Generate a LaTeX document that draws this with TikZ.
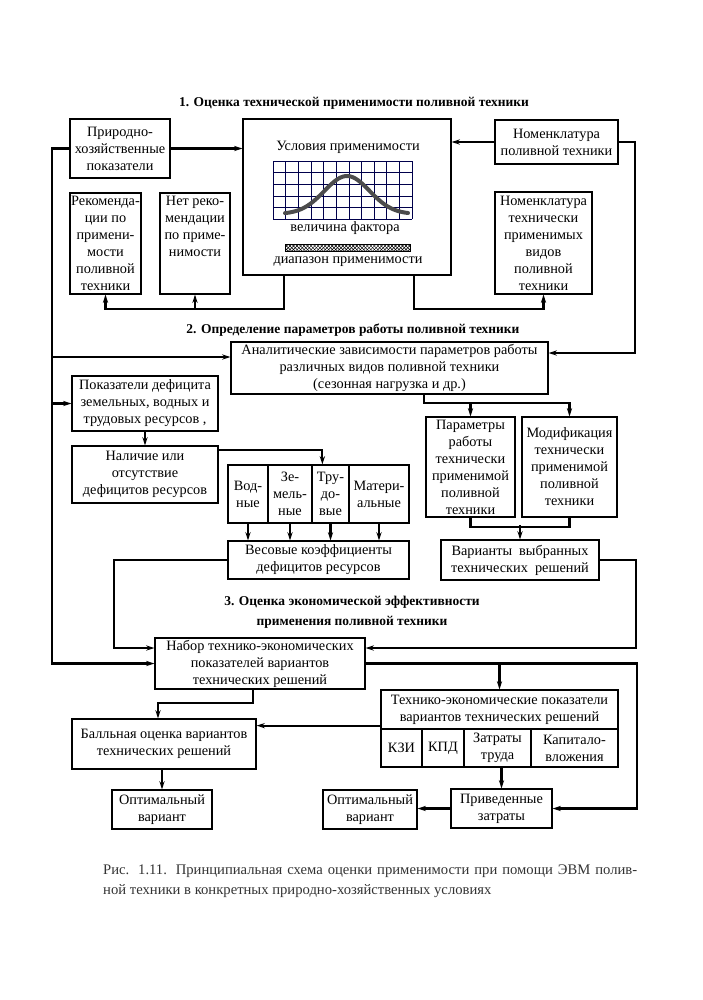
\documentclass[tikz,border=0pt]{standalone}
\usepackage{fontspec}
\setmainfont{Liberation Serif}
\usetikzlibrary{calc,patterns,arrows.meta}

\begin{document}
\begin{tikzpicture}[x=0.03cm,y=-0.03cm]
    % `block' is used for every framed box, `heading' for the part titles.
    % `link' is used for the connectors with an arrow, `plain' without one.
    \tikzstyle{block} = [draw,line width=1.1pt,align=center,inner sep=1pt,font=\fontsize{12.2}{14.5}\selectfont]
    \tikzstyle{heading} = [align=center,inner sep=0pt,font=\bfseries\fontsize{11.5}{17}\selectfont]
    \tikzstyle{inside} = [inner sep=0pt,font=\fontsize{12.2}{14.5}\selectfont]
    \tikzstyle{link} = [line width=1.9pt,-{Stealth[length=7pt,width=4.5pt]}]
    \tikzstyle{plain} = [line width=1.9pt]
    \tikzstyle{gridline} = [line width=0.5pt,draw=black!70!blue]
    \useasboundingbox (0,0) rectangle (703,1000);
    %
    % Part 1.
    \node[heading] (title1) at (354,103) {1. Оценка технической применимости поливной техники};
    \node[block,minimum width=3.0cm,minimum height=1.77cm] (prirod) at (120,148.5) {Природно-\\хозяйственные\\показатели};
    \node[block,minimum width=6.24cm,minimum height=4.68cm] (usl) at (347,197) {};
    \node[block,minimum width=3.69cm,minimum height=1.32cm] (nomen) at (556.5,142) {Номенклатура\\поливной техники};
    \node[block,minimum width=2.13cm,minimum height=3.03cm] (rekom) at (105.5,243.5) {Рекоменда-\\ции по\\примени-\\мости\\поливной\\техники};
    \node[block,minimum width=2.10cm,minimum height=3.03cm] (netrek) at (195,243.5) {Нет реко-\\мендации\\по приме-\\нимости\\~\\~};
    \node[block,minimum width=2.91cm,minimum height=3.06cm] (nomtech) at (543.5,243) {Номенклатура\\технически\\применимых\\видов\\поливной\\техники};
    % Contents of the big box.
    \begin{scope}[shift={(usl.center)}]
      \node[inside] (uslname) at (1,-50) {Условия применимости};
      \foreach \i in {0,...,11} \draw[gridline] (-74+\i*12.64,-36) -- ++(0,58);
      \foreach \j in {0,...,5} \draw[gridline] (-74,-36+\j*11.6) -- ++(139,0);
      \draw[line width=3.4pt,black!70,line cap=round] plot[domain=-62:61,samples=50,smooth] (\x,{17-38*exp(-(\x/32)*(\x/32))});
      \node[inside] (factor) at (-2,31) {величина фактора};
      \node[draw,line width=0.8pt,pattern=crosshatch,minimum width=3.75cm,minimum height=0.21cm,inner sep=0pt] (diapbar) at (0.5,50.5) {};
      \node[inside] (diapname) at (1,65) {диапазон применимости};
    \end{scope}
    %
    % Part 2.
    \node[heading] (title2) at (353,330) {2. Определение параметров работы поливной техники};
    \node[block,minimum width=9.51cm,minimum height=1.56cm] (analit) at (389.5,368) {Аналитические зависимости параметров работы\\различных видов поливной техники\\(сезонная нагрузка и др.)};
    \node[block,minimum width=4.38cm,minimum height=1.65cm] (pokdef) at (145,403.5) {Показатели дефицита\\земельных, водных и\\трудовых ресурсов ,};
    \node[block,minimum width=4.38cm,minimum height=1.71cm] (nalich) at (145,474.5) {Наличие или\\отсутствие\\дефицитов ресурсов};
    \node[block,minimum width=1.2cm,minimum height=1.74cm] (vod) at (248,494) {Вод-\\ные};
    \node[block,minimum width=1.32cm,minimum height=1.74cm] (zem) at (290,494) {Зе-\\мель-\\ные};
    \node[block,minimum width=1.11cm,minimum height=1.74cm] (trud) at (330.5,494) {Тру-\\до-\\вые};
    \node[block,minimum width=1.8cm,minimum height=1.74cm] (mater) at (379,494) {Матери-\\альные};
    \node[block,minimum width=5.43cm,minimum height=1.14cm] (vesov) at (318.5,560) {Весовые коэффициенты\\дефицитов ресурсов};
    \node[block,minimum width=2.67cm,minimum height=3.0cm] (param) at (470.5,467) {Параметры\\работы\\технически\\применимой\\поливной\\техники};
    \node[block,minimum width=2.85cm,minimum height=3.0cm] (modif) at (569.5,467) {Модификация\\технически\\применимой\\поливной\\техники};
    \node[block,minimum width=4.74cm,minimum height=1.2cm] (variant) at (520,560) {Варианты\ \ выбранных\\технических\ \ решений};
    %
    % Part 3.
    \node[heading] (title3) at (352,612) {3. Оценка экономической эффективности\\применения поливной техники};
    \node[block,minimum width=6.3cm,minimum height=1.53cm] (nabor) at (260,663.5) {Набор технико-экономических\\показателей вариантов\\технических решений};
    \node[block,minimum width=7.11cm,minimum height=1.17cm] (tepok) at (499.5,709.5) {Технико-экономические показатели\\вариантов технических решений};
    \node[block,minimum width=1.23cm,minimum height=1.14cm] (kzi) at (401.5,748) {КЗИ};
    \node[block,minimum width=1.26cm,minimum height=1.14cm] (kpd) at (443,748) {КПД};
    \node[block,minimum width=2.01cm,minimum height=1.14cm] (zatr) at (497.5,748) {Затраты\\труда};
    \node[block,minimum width=2.61cm,minimum height=1.14cm] (kapit) at (574.5,748) {Капитало-\\вложения};
    \node[block,minimum width=5.52cm,minimum height=1.5cm] (balln) at (164,744) {Балльная оценка вариантов\\технических решений};
    \node[block,minimum width=3.0cm,minimum height=1.17cm] (opt1) at (162,809.5) {Оптимальный\\вариант};
    \node[block,minimum width=2.82cm,minimum height=1.17cm] (opt2) at (370,809.5) {Оптимальный\\вариант};
    \node[block,minimum width=3.03cm,minimum height=1.17cm] (privz) at (501.5,808.5) {Приведенные\\затраты};
    %
    % Caption.
    \node[anchor=west,inner sep=0pt,align=left,text=black!80,font=\fontsize{12.5}{17}\selectfont] (caption) at (103,881)
      {\makebox[16.02cm][s]{Рис. 1.11. Принципиальная схема оценки применимости при помощи ЭВМ полив-}\\ной техники в конкретных природно-хозяйственных условиях};
    %
    % Connectors of part 1.
    \coordinate (lbus) at (52,150);
    \draw[link] (prirod.east) -- (prirod.east -| usl.west);
    \draw[link] (nomen.west) -- (nomen.west -| usl.east);
    \draw[link] (prirod.west) -- (prirod.west -| lbus) |- (nabor.west);
    \draw[link] ($(usl.south west)+(42,0)$) -- ++(0,33) -| (rekom.south);
    \draw[link] ($(usl.south west)+(42,33)$) -| (netrek.south);
    \draw[link] ($(usl.south east)+(-38,0)$) -- ++(0,33) -| (nomtech.south);
    \draw[link] (nomen.east) -- ++(16,0) |- ($(analit.east)+(0,-15)$);
    % Connectors of part 2.
    \coordinate (ain) at ($(analit.west)+(0,-11)$);
    \draw[link] (ain -| lbus) -- (ain);
    \draw[link] (pokdef.west -| lbus) -- (pokdef.west);
    \draw[link] (pokdef.south) -- (nalich.north);
    \draw[link] ($(nalich.north east)+(0,5)$) -| ($(trud.north west)+(11,0)$);
    \foreach \c in {vod,zem,trud,mater}
      \draw[link] (\c.south) -- (\c.south |- vesov.north);
    \draw[link] ($(analit.south west)+(194,0)$) -- ++(0,8) -| (param.north);
    \draw[link] ($(analit.south west)+(194,8)$) -| (modif.north);
    \draw[plain] (param.south) -- ++(0,9) -| (modif.south);
    \draw[link] ($(variant.north)+(0,-14)$) -- (variant.north);
    \draw[link] (variant.east) -- ++(36,0) |- ($(nabor.east)+(0,-15.5)$);
    \draw[link] (vesov.west) -- ++(-113,0) |- ($(nabor.west)+(0,-15.5)$);
    % Connectors of part 3.
    \draw[link] (nabor.east) -- ++(271,0) |- (privz.east);
    \draw[link] (nabor.east -| tepok.north) -- (tepok.north);
    \draw[link] ($(nabor.south)+(-7,0)$) -- ++(0,13.5) -| ($(balln.north)+(-6,0)$);
    \coordinate (tin) at ($(tepok.south west)+(0,-4)$);
    \draw[link] (tin) -- (tin -| balln.east);
    \draw[link] (zatr.south -| privz.north) -- (privz.north);
    \draw[link] (privz.west) -- (privz.west -| opt2.east);
    \draw[link] (balln.south -| opt1.north) -- (opt1.north);
\end{tikzpicture}
\end{document}
